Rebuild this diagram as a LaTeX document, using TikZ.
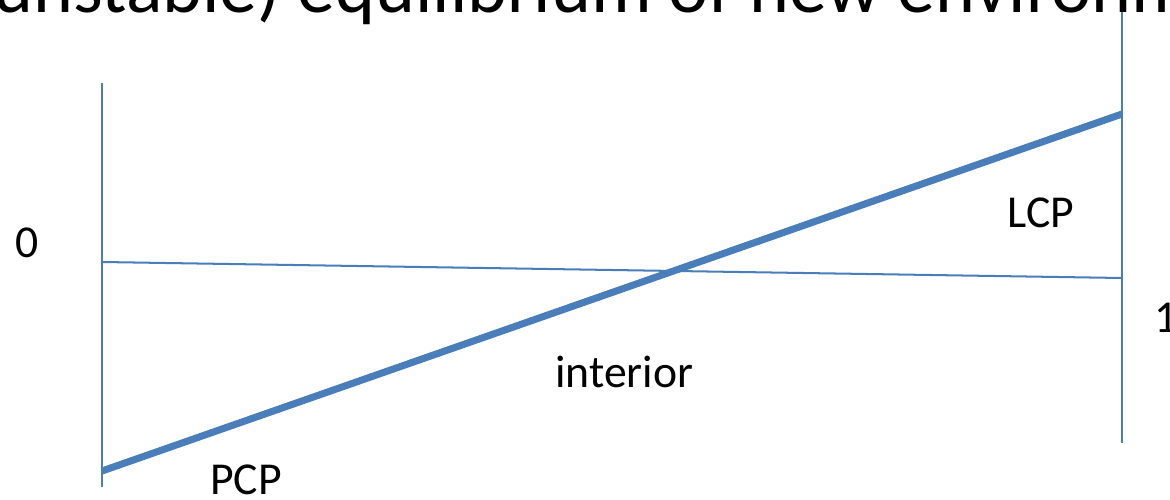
\documentclass[tikz,border=0pt]{standalone}
\usepackage{fontspec}
\setmainfont{Carlito}
\definecolor{lineblue}{HTML}{4A7EBB}
\tikzset{
  axis/.style={draw=lineblue, line width=1.15pt},
  thickline/.style={draw=lineblue, line width=4pt},
  lbl/.style={anchor=base west, inner sep=0pt, font=\fontsize{26}{31}\selectfont},
  ttl/.style={anchor=base west, inner sep=0pt, font=\fontsize{43.2}{50}\selectfont}
}
\begin{document}
\begin{tikzpicture}[x=0.02cm,y=-0.02cm]
\path[use as bounding box, clip] (0,0) rectangle (1170,500);
\fill[white] (0,0) rectangle (1170,500);
% coordinates
\coordinate (Ltop) at (102,83);
\coordinate (Lbot) at (102,487);
\coordinate (Rtop) at (1122,8);
\coordinate (Rbot) at (1122,443);
\coordinate (Hl) at (102,262);
\coordinate (Hr) at (1122,278);
\coordinate (Tl) at (102,471);
\coordinate (Tr) at (1122,114);
% lines
\draw[axis] (Ltop) -- (Lbot);
\draw[axis] (Rtop) -- (Rbot);
\draw[axis] (Hl) -- (Hr);
\draw[thickline] (Tl) -- (Tr);
% labels
\node[ttl] (title) at (-7,13) {unstable) equilibrium of new environm};
\node[lbl] (zero) at (15,257) {0};
\node[lbl] (one) at (1154,332) {1};
\node[lbl] (lcp) at (1007,227) {LCP};
\node[lbl] (interior) at (555,387) {interior};
\node[lbl] (pcp) at (210,494) {PCP};
\end{tikzpicture}
\end{document}
